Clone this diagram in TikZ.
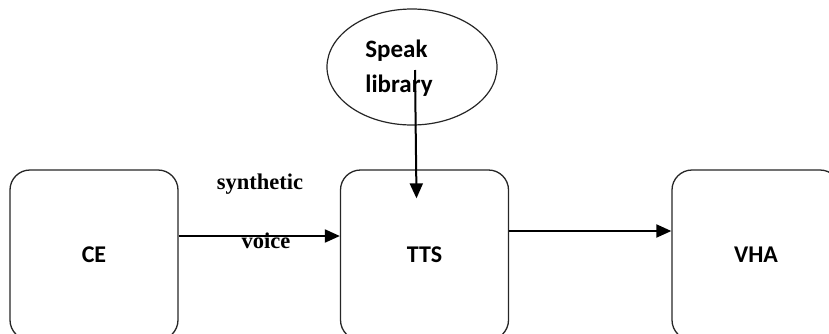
\documentclass[tikz,border=0pt]{standalone}
\usepackage{fontspec}
\setmainfont{Liberation Serif}
\newfontfamily\lblfont{Carlito}
\usetikzlibrary{arrows.meta,shapes.geometric}

\tikzset{
  blockbox/.style={draw=black!85, line width=1.3pt, rounded corners=20pt,
    minimum width=168pt, minimum height=170pt, inner sep=0pt,
    font=\lblfont\bfseries\fontsize{24}{28}\selectfont},
  libellipse/.style={draw=black!85, line width=1.2pt, ellipse,
    minimum width=170pt, minimum height=116pt, inner sep=0pt},
  libtext/.style={align=left, inner sep=0pt,
    font=\lblfont\bfseries\fontsize{25}{35}\selectfont},
  flowlabel/.style={inner sep=0pt, font=\bfseries\fontsize{22.5}{26}\selectfont},
  flow/.style={line width=2pt, -{Triangle[length=15pt,width=13pt]}}
}

\begin{document}
\begin{tikzpicture}[x=1pt, y=-1pt]
  \useasboundingbox (0,0) rectangle (829,333);
  \clip (0,0) rectangle (829,333);

  % processing blocks
  \node[blockbox] (ce)  at (94,255)  {CE};
  \node[blockbox] (tts) at (424.5,255) {TTS};
  \node[blockbox] (vha) at (756,255) {VHA};

  % speech library
  \node[libellipse] (lib) at (412,67) {};
  \node[libtext] (libname) at (399,68) {Speak\\library};

  % connectors (shifts are in canvas units: positive y is up)
  \draw[flow] ([yshift=19pt]ce.east) -- ([yshift=19pt]tts.west);
  \draw[flow] ([yshift=24pt]tts.east) -- ([yshift=24pt]vha.west);
  \draw[flow] ([xshift=3pt,yshift=-3pt]lib.center) -- ([xshift=-8pt,yshift=-29pt]tts.north);

  % edge caption
  \node[flowlabel] (syn) at (260,184) {synthetic};
  \node[flowlabel] (voi) at (266,241) {voice};
\end{tikzpicture}
\end{document}
